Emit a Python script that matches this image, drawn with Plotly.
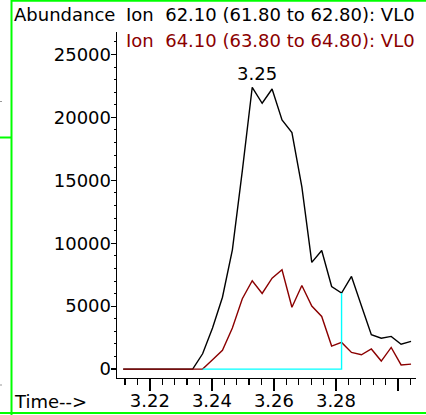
import plotly.graph_objects as go

# ---------------- data ----------------
times = [3.2114, 3.2146, 3.2178, 3.2210, 3.2242, 3.2274, 3.2306, 3.2338,
         3.2370, 3.2402, 3.2434, 3.2466, 3.2498, 3.2530, 3.2562, 3.2594,
         3.2626, 3.2658, 3.2690, 3.2722, 3.2754, 3.2786, 3.2818, 3.2850,
         3.2882, 3.2914, 3.2946, 3.2978, 3.3010, 3.3042]

ion_62 = [0, 0, 0, 0, 0, 0, 0, 0,
          1220, 3260, 5710, 9480, 15750, 22390, 21120, 22250,
          19790, 18790, 14480, 8480, 9420, 6560, 6040, 7360,
          5030, 2730, 2450, 2600, 1980, 2200]

ion_64 = [0, 0, 0, 0, 0, 0, 0, 0,
          0, 750, 1500, 3260, 5590, 7020, 6010, 7230,
          7890, 4910, 6640, 5010, 4180, 1830, 2120, 1330,
          1140, 1600, 640, 1720, 330, 400]

integration_start = 3.2370
integration_end = 3.2818
peak_label = "3.25"
peak_index = 13

x_tick_vals = [3.22, 3.24, 3.26, 3.28, 3.30]
x_tick_text = ["3.22", "3.24", "3.26", "3.28", ""]
y_tick_vals = [0, 5000, 10000, 15000, 20000, 25000]
y_tick_text = ["0", "5000", "10000", "15000", "20000", "25000"]

label_62 = "Ion\u00a0\u00a062.10 (61.80 to 62.80): VL0"
label_64 = "Ion\u00a0\u00a064.10 (63.80 to 64.80): VL0"

# ---------------- layout geometry ----------------
W, H = 426, 415
ML, MR, MT, MB = 117, 10, 32, 37
PW, PH = W - ML - MR, H - MT - MB

def fx(px):
    return (px - ML) / PW

def fy(py):
    return (H - MB - py) / PH

FONT = "DejaVu Sans"
FS = 18
RED = "#8b0000"
GREEN = "#00ff00"

fig = go.Figure()
fig.add_trace(go.Scatter(x=times, y=ion_62, mode="lines",
                         line=dict(color="black", width=1.4), hoverinfo="skip"))
fig.add_trace(go.Scatter(x=times, y=ion_64, mode="lines",
                         line=dict(color=RED, width=1.4), hoverinfo="skip"))
end_val = ion_62[times.index(integration_end)]
fig.add_trace(go.Scatter(x=[integration_start, integration_end, integration_end],
                         y=[0, 0, end_val], mode="lines",
                         line=dict(color="#00ffff", width=1.4), hoverinfo="skip"))

fig.update_layout(
    width=W, height=H,
    margin=dict(l=ML, r=MR, t=MT, b=MB, pad=0),
    paper_bgcolor="white", plot_bgcolor="white",
    showlegend=False, hovermode=False,
    font=dict(family=FONT, size=FS, color="black"),
    xaxis=dict(range=[3.2094, 3.3058], showgrid=False, zeroline=False,
               showline=True, linecolor="black", linewidth=1.4,
               tickmode="array", tickvals=x_tick_vals, ticktext=x_tick_text,
               ticks="outside", ticklen=12, tickwidth=1.3, tickcolor="black",
               ticklabelstandoff=-6,
               tickfont=dict(family=FONT, size=FS, color="black"),
               minor=dict(tickmode="linear", tick0=3.2, dtick=0.004,
                          ticks="outside", ticklen=6, tickwidth=1.3,
                          tickcolor="black", showgrid=False),
               automargin=False, fixedrange=True),
    yaxis=dict(range=[-706, 26780], showgrid=False, zeroline=False,
               showline=True, linecolor="black", linewidth=1.4,
               tickmode="array", tickvals=y_tick_vals, ticktext=y_tick_text,
               ticks="outside", ticklen=5, tickwidth=1.3, tickcolor="black",
               ticklabelstandoff=-4,
               tickfont=dict(family=FONT, size=FS, color="black"),
               minor=dict(tickmode="linear", tick0=0, dtick=1000,
                          ticks="outside", ticklen=2, tickwidth=1,
                          tickcolor="black", showgrid=False),
               automargin=False, fixedrange=True),
)

ann = [
    dict(text="Abundance", x=fx(12), y=fy(14.5), xanchor="left", yanchor="middle",
         font=dict(color="black")),
    dict(text=label_62, x=fx(124), y=fy(14.5), xanchor="left", yanchor="middle",
         font=dict(color="black")),
    dict(text=label_64, x=fx(124), y=fy(40.5), xanchor="left", yanchor="middle",
         font=dict(color=RED)),
    dict(text="Time-->", x=fx(12), y=fy(401.5), xanchor="left", yanchor="middle",
         font=dict(color="black")),
]
for a in ann:
    a.update(xref="paper", yref="paper", showarrow=False)
    a["font"].update(family=FONT, size=FS)
    fig.add_annotation(**a)

fig.add_annotation(text=peak_label, x=times[peak_index], y=ion_62[peak_index],
                   xref="x", yref="y", showarrow=False, xanchor="center",
                   yanchor="middle", xshift=5, yshift=14,
                   font=dict(family=FONT, size=FS, color="black"))

# frame decorations (green window borders)
shapes = [
    dict(x0=fx(11.5), x1=fx(11.5), y0=fy(0), y1=fy(H)),
    dict(x0=fx(11), x1=fx(W), y0=fy(0.8), y1=fy(0.8)),
    dict(x0=fx(0), x1=fx(W), y0=fy(413), y1=fy(413)),
    dict(x0=fx(0), x1=fx(11), y0=fy(137.5), y1=fy(137.5)),
]
for s in shapes:
    fig.add_shape(type="line", xref="paper", yref="paper",
                  line=dict(color=GREEN, width=2), layer="above", **s)
for py in (101.5, 385):
    fig.add_shape(type="line", xref="paper", yref="paper",
                  x0=fx(0), x1=fx(2), y0=fy(py), y1=fy(py),
                  line=dict(color="#999999", width=1))

fig.write_html("out.html",
               config={"displayModeBar": False, "staticPlot": True},
               post_script="document.body.style.margin='0';"
                           "document.body.style.overflow='hidden';")
